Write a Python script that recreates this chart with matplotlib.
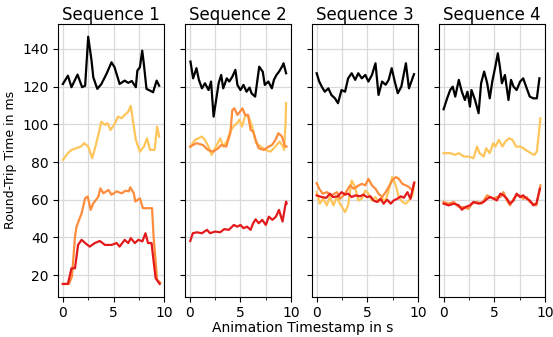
import numpy as np
import matplotlib
matplotlib.use('Agg')
from matplotlib import pyplot as plt
from matplotlib.ticker import MultipleLocator

# colours of the four series (black + YlOrRd shades)
colors = ['black', '#fec55a', '#fd8d3c', '#e31a1c']
titles = ['Sequence 1', 'Sequence 2', 'Sequence 3', 'Sequence 4']

# ---- Sequence 1 ----
s1_black_t = [0, 0.5, 0.85, 1.45, 1.9, 2.2, 2.5, 2.83, 3.0, 3.4, 3.8, 4.3, 4.8, 5.1, 5.6, 6.1, 6.45, 6.8, 7.2, 7.35, 7.6, 7.83, 8.0, 8.25, 8.6, 8.9, 9.25, 9.5]
s1_black = [121.4, 125.8, 119.7, 126.4, 119.7, 120.5, 146.5, 133.8, 125.0, 118.8, 121.4, 126.7, 132.9, 130.3, 121.4, 123.2, 122.0, 123.0, 119.7, 128.5, 130.3, 139.1, 131.5, 118.8, 117.9, 117.0, 123.2, 120.5]
s1_yel_t = [0, 0.5, 0.85, 1.3, 1.8, 2.1, 2.5, 2.9, 3.3, 3.8, 4.15, 4.4, 4.7, 5.05, 5.45, 5.8, 6.1, 6.45, 6.7, 6.95, 7.2, 7.6, 8.0, 8.3, 8.6, 9.05, 9.3, 9.5]
s1_yel = [81.1, 84.7, 86.4, 87.3, 88.2, 90.0, 88.2, 82.0, 90.0, 101.4, 99.7, 100.6, 97.0, 99.7, 104.1, 103.2, 105.0, 106.7, 109.8, 100.6, 91.7, 85.5, 88.2, 92.6, 86.4, 86.4, 98.8, 93.5]
s1_org_t = [0, 0.6, 0.9, 1.2, 1.35, 1.85, 2.2, 2.45, 2.75, 3.0, 3.5, 3.7, 4.0, 4.5, 4.8, 5.3, 5.8, 6.2, 6.5, 6.65, 7.0, 7.15, 7.6, 7.9, 8.8, 8.95, 9.3, 9.6]
s1_org = [15.3, 15.3, 19.3, 40.4, 45.7, 52.8, 60.8, 61.7, 54.6, 58.0, 61.6, 66.0, 63.4, 65.2, 62.6, 64.4, 63.4, 64.8, 64.4, 66.6, 63.4, 59.0, 60.8, 55.5, 55.5, 40.4, 17.5, 16.0]
s1_red_t = [0, 0.5, 0.85, 1.2, 1.5, 1.85, 2.2, 2.65, 3.15, 3.65, 4.15, 4.8, 5.3, 5.6, 6.1, 6.45, 6.7, 7.1, 7.45, 7.85, 8.15, 8.4, 8.75, 8.9, 9.15, 9.55]
s1_red = [15.3, 15.3, 23.6, 23.6, 36.0, 38.7, 37.0, 35.1, 37.0, 38.1, 36.0, 36.0, 37.0, 35.1, 38.7, 37.0, 39.6, 37.0, 38.7, 37.9, 42.2, 37.0, 37.0, 29.8, 18.4, 15.3]

# ---- Sequence 2 ----
s2_black_t = [0.07, 0.33, 0.66, 0.9, 1.2, 1.5, 1.85, 2.1, 2.35, 2.6, 2.85, 3.1, 3.3, 3.65, 3.9, 4.2, 4.5, 4.7, 5.0, 5.3, 5.6, 5.9, 6.1, 6.45, 6.85, 7.2, 7.4, 7.75, 8.1, 8.3, 8.55, 8.8, 9.1, 9.25, 9.5]
s2_black = [133.3, 124.4, 129.8, 123.6, 119.1, 121.8, 118.2, 122.7, 104.1, 112.9, 121.8, 126.2, 119.1, 124.4, 122.7, 125.3, 128.9, 120.9, 118.2, 120.9, 117.3, 119.5, 116.4, 114.7, 130.6, 127.9, 120.9, 122.7, 119.1, 123.6, 126.2, 127.9, 130.6, 132.4, 127.1]
s2_yel_t = [0.05, 0.5, 1.2, 1.5, 1.85, 2.15, 2.5, 3.0, 3.3, 3.65, 4.0, 4.3, 4.65, 4.9, 5.15, 5.5, 5.8, 6.15, 6.55, 7.0, 7.45, 7.95, 8.45, 8.85, 9.2, 9.3, 9.45, 9.5]
s2_yel = [88.0, 91.7, 93.5, 91.7, 88.2, 83.8, 87.3, 92.6, 88.2, 90.9, 96.2, 98.8, 100.6, 102.4, 98.8, 105.0, 104.1, 98.8, 90.0, 88.2, 86.4, 85.5, 88.2, 90.9, 88.2, 86.4, 100.6, 111.2]
s2_org_t = [0.05, 0.66, 1.3, 1.8, 2.3, 2.8, 3.1, 3.6, 4.0, 4.2, 4.4, 4.7, 4.95, 5.2, 5.45, 5.75, 6.0, 6.25, 6.5, 6.8, 7.3, 7.8, 8.1, 8.45, 8.75, 9.1, 9.4, 9.55]
s2_org = [88.2, 90.0, 89.0, 86.4, 85.5, 87.3, 89.0, 88.2, 95.3, 107.6, 108.5, 105.0, 106.7, 108.5, 105.0, 105.0, 97.0, 96.2, 91.7, 87.3, 86.4, 88.2, 89.0, 91.7, 95.3, 93.5, 88.2, 88.2]
s2_red_t = [0.05, 0.3, 0.7, 1.2, 1.7, 2.0, 2.5, 3.0, 3.4, 3.85, 4.35, 4.7, 5.0, 5.3, 5.65, 6.0, 6.25, 6.5, 6.8, 7.15, 7.5, 7.8, 8.15, 8.5, 8.8, 9.15, 9.35, 9.5, 9.55]
s2_red = [38.1, 42.2, 42.7, 42.2, 44.0, 42.2, 43.1, 42.7, 44.4, 44.0, 46.6, 45.7, 46.6, 44.9, 45.7, 44.0, 47.5, 49.6, 47.5, 49.3, 46.6, 51.0, 49.3, 51.0, 54.6, 48.4, 54.6, 59.0, 58.0]

# ---- Sequence 3 ----
s3_black_t = [0, 0.25, 0.5, 0.8, 1.15, 1.45, 1.8, 2.1, 2.45, 2.8, 3.1, 3.45, 3.8, 4.1, 4.45, 4.8, 5.1, 5.45, 5.8, 6.1, 6.45, 6.8, 7.1, 7.4, 7.7, 8.0, 8.35, 8.8, 9.1, 9.45, 9.6]
s3_black = [127.1, 122.7, 120.0, 117.3, 119.1, 115.6, 113.8, 111.2, 118.2, 117.3, 124.4, 127.1, 123.6, 127.1, 124.4, 126.2, 122.7, 126.2, 132.4, 115.6, 122.7, 121.0, 123.6, 129.8, 122.7, 116.5, 120.0, 132.4, 119.1, 124.4, 126.6]
s3_yel_t = [0, 0.3, 0.65, 1.0, 1.3, 1.65, 2.0, 2.3, 2.8, 3.1, 3.45, 3.8, 4.1, 4.45, 4.8, 5.1, 5.45, 5.8, 6.1, 6.45, 6.8, 7.1, 7.45, 7.8, 8.1, 8.45, 8.8, 9.1, 9.45, 9.6]
s3_yel = [64.0, 57.9, 60.5, 57.0, 61.4, 57.0, 61.4, 57.9, 53.4, 57.0, 70.2, 66.7, 59.6, 60.5, 64.9, 63.2, 59.6, 61.4, 58.8, 60.5, 59.6, 64.9, 72.0, 67.6, 61.4, 58.8, 57.9, 59.6, 62.3, 67.6]
s3_org_t = [0, 0.25, 0.6, 1.0, 1.45, 2.0, 2.3, 2.65, 3.0, 3.3, 3.65, 4.15, 4.45, 4.8, 5.1, 5.45, 5.8, 6.1, 6.45, 6.8, 7.1, 7.45, 7.8, 8.1, 8.45, 8.8, 9.1, 9.45, 9.65]
s3_org = [68.8, 65.8, 63.2, 64.0, 62.3, 64.0, 60.5, 62.3, 64.9, 67.6, 65.8, 67.6, 68.4, 67.6, 71.1, 67.6, 65.8, 63.2, 61.4, 64.0, 66.7, 70.2, 72.0, 71.1, 68.4, 67.6, 66.7, 64.9, 69.3]
s3_red_t = [0, 0.5, 0.95, 1.3, 1.6, 2.1, 2.45, 2.8, 3.1, 3.45, 3.8, 4.3, 4.6, 4.95, 5.3, 5.6, 5.95, 6.3, 6.6, 6.95, 7.3, 7.6, 7.95, 8.3, 8.6, 8.95, 9.25, 9.6]
s3_red = [62.3, 61.4, 61.0, 63.2, 61.4, 61.8, 64.0, 62.7, 63.2, 61.4, 62.3, 61.8, 62.7, 61.4, 61.8, 59.6, 58.8, 60.5, 57.9, 60.0, 57.9, 59.6, 60.5, 61.8, 61.0, 64.0, 60.5, 68.8]

# ---- Sequence 4 ----
s4_black_t = [0, 0.35, 0.65, 0.9, 1.15, 1.5, 1.8, 2.1, 2.35, 2.6, 2.75, 3.1, 3.45, 3.7, 4.0, 4.3, 4.55, 4.8, 5.1, 5.35, 5.55, 5.75, 6.05, 6.4, 6.65, 6.9, 7.2, 7.55, 7.85, 8.2, 8.5, 8.85, 9.2, 9.45]
s4_black = [108.0, 113.8, 118.2, 120.0, 114.7, 123.6, 117.3, 112.9, 117.3, 109.4, 118.2, 112.9, 105.9, 121.8, 128.0, 121.8, 113.8, 122.7, 130.6, 137.7, 130.6, 121.8, 126.2, 112.9, 123.6, 120.0, 118.2, 122.7, 124.4, 119.1, 114.7, 113.8, 113.8, 124.4]
s4_yel_t = [0, 0.65, 1.15, 1.5, 2.0, 2.5, 2.95, 3.3, 3.55, 3.95, 4.2, 4.55, 4.9, 5.1, 5.45, 5.8, 6.1, 6.45, 6.8, 7.15, 7.6, 8.1, 8.6, 8.95, 9.2, 9.4, 9.55]
s4_yel = [84.7, 84.7, 83.8, 84.7, 82.9, 82.9, 82.0, 88.2, 84.7, 82.9, 87.3, 84.7, 90.0, 88.2, 91.7, 88.2, 90.9, 92.6, 91.7, 88.2, 88.2, 86.4, 84.7, 83.8, 85.5, 95.3, 103.2]
s4_org_t = [0, 0.5, 1.0, 1.5, 1.95, 2.45, 2.8, 3.3, 3.75, 4.3, 4.6, 4.95, 5.25, 5.6, 5.9, 6.25, 6.55, 6.9, 7.2, 7.55, 7.85, 8.2, 8.5, 8.85, 9.15, 9.55]
s4_org = [58.8, 57.9, 58.8, 56.1, 56.1, 55.2, 57.9, 58.8, 57.9, 62.3, 61.4, 60.5, 61.4, 61.4, 64.0, 59.6, 57.0, 60.5, 62.3, 62.3, 60.5, 61.4, 58.8, 57.9, 57.0, 67.6]
s4_red_t = [0, 0.5, 1.0, 1.5, 1.8, 2.15, 2.6, 2.95, 3.45, 3.95, 4.3, 4.6, 4.95, 5.25, 5.6, 5.9, 6.25, 6.55, 6.9, 7.2, 7.55, 7.85, 8.2, 8.5, 8.85, 9.15, 9.5]
s4_red = [57.9, 57.0, 57.9, 57.0, 54.7, 56.1, 57.0, 58.8, 57.9, 58.8, 60.5, 61.4, 60.5, 59.6, 63.2, 62.3, 60.5, 57.9, 59.6, 63.2, 61.4, 62.3, 60.5, 59.6, 57.0, 57.9, 65.8]

sequences = [
    [(s1_black_t, s1_black), (s1_yel_t, s1_yel), (s1_org_t, s1_org), (s1_red_t, s1_red)],
    [(s2_black_t, s2_black), (s2_yel_t, s2_yel), (s2_org_t, s2_org), (s2_red_t, s2_red)],
    [(s3_black_t, s3_black), (s3_yel_t, s3_yel), (s3_org_t, s3_org), (s3_red_t, s3_red)],
    [(s4_black_t, s4_black), (s4_yel_t, s4_yel), (s4_org_t, s4_org), (s4_red_t, s4_red)],
]

fig, axes = plt.subplots(1, 4, sharey=True, figsize=(5.53, 3.37), dpi=100)
fig.subplots_adjust(left=0.1054, right=0.9855, top=0.928, bottom=0.12, wspace=0.198)

for ax, title, seq in zip(axes, titles, sequences):
    for (t, v), c in zip(seq, colors):
        ax.plot(t, v, color=c, lw=1.6)
    ax.set_title(title, fontsize=12, pad=3)
    ax.set_xlim(-0.45, 10.0)
    ax.set_ylim(8.6, 153.1)
    ax.xaxis.set_major_locator(MultipleLocator(5))
    ax.xaxis.set_minor_locator(MultipleLocator(2.5))
    ax.set_yticks([20, 40, 60, 80, 100, 120, 140])
    ax.grid(True, which='both', color='#d9d9d9', lw=0.9)
    ax.set_axisbelow(True)
    ax.tick_params(labelsize=10)

axes[0].set_ylabel('Round-Trip Time in ms', fontsize=9)
fig.text(0.548, 0.005, 'Animation Timestamp in s', ha='center', va='bottom', fontsize=10)

plt.savefig('out.png', dpi=100)
